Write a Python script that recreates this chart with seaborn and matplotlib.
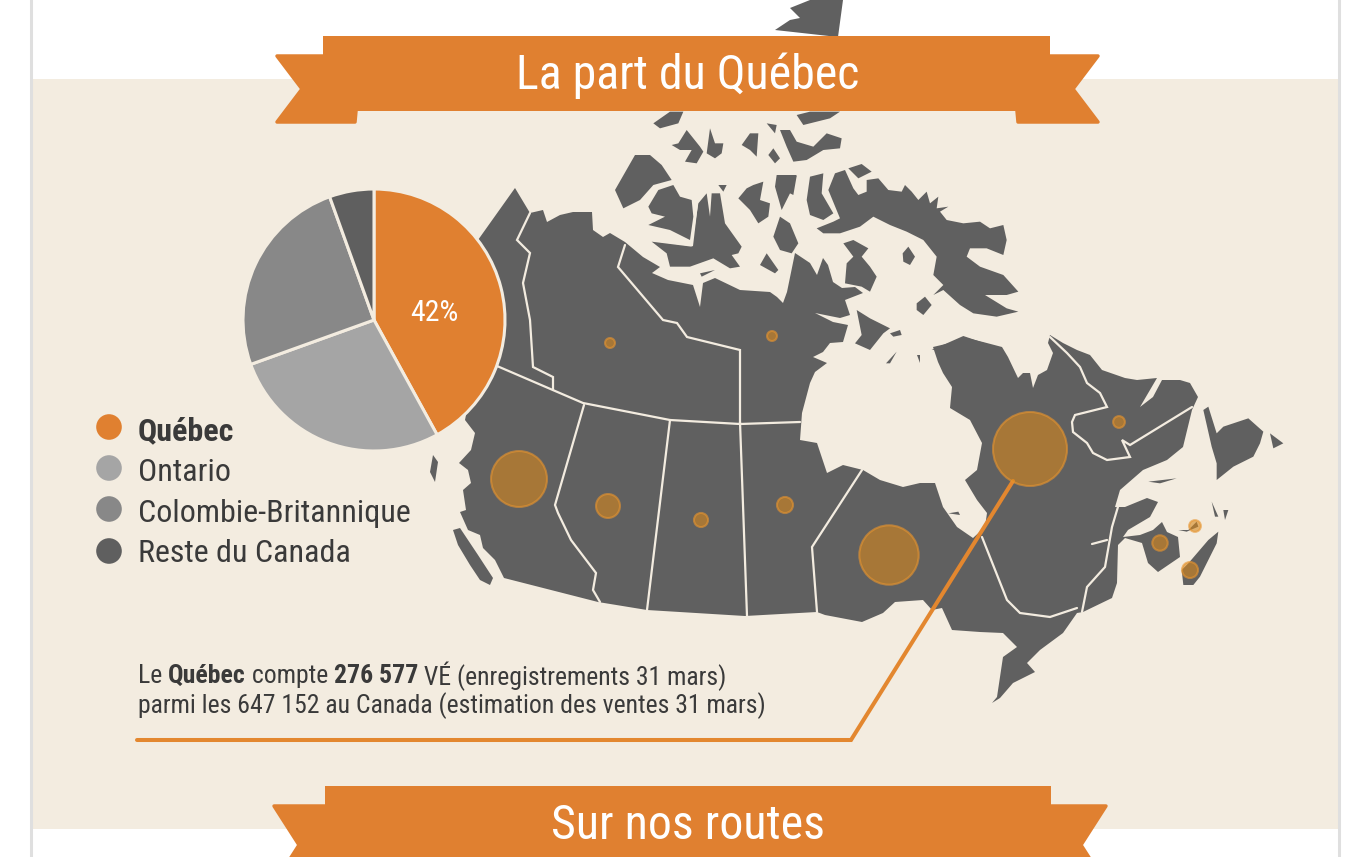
"""
La part du Québec : infographie, camembert et carte du Canada à bulles.
"""
import matplotlib
matplotlib.use("Agg")
import matplotlib.pyplot as plt
import pandas as pd
import seaborn as sns

# parts du camembert (%)
parts_labels = ["Québec", "Ontario", "Colombie-Britannique", "Reste du Canada"]
parts_valeurs = [42, 27.5, 25, 5.5]
parts_couleurs = ["#E08030", "#A5A5A5", "#888888", "#5F5F5F"]

# véhicules estimés par province, d'après l'aire des bulles
provinces = ["QC", "ON", "BC", "AB", "SK", "MB", "NT", "NU", "NL", "NB", "PE", "NS"]
vehicules = [276577, 178000, 158000, 29000, 10000, 13000, 5000, 5000, 7000, 12000, 7000, 13000]
bulle_x = [1030, 889, 519, 608, 701, 785, 610, 772, 1119, 1160, 1195, 1190]
bulle_y = [449, 555, 479, 506, 520, 505, 343, 336, 422, 543, 526, 570]

# contours de la carte, en pixels de l'image
continent = [(515,188),(530,213),(543,210),(547,222),(560,215),(573,212),(592,212),(593,230),(603,237),(610,233),(625,242),
    (643,257),(660,267),(652,273),(668,280),(693,285),(700,307),(703,283),(715,278),(740,290),(770,292),(777,297),(783,303),
    (787,292),(795,253),(810,263),(817,275),(823,258),(828,265),(833,282),(842,288),(855,287),(863,293),(845,300),(850,315),
    (840,318),(815,313),(833,322),(848,325),(843,342),(830,343),(823,352),(813,357),(827,363),(815,372),(810,383),(806,398),
    (802,413),(800,440),(817,443),(827,473),(843,465),(863,470),(880,480),(903,487),(920,483),(935,483),(943,507),(957,527),
    (973,538),(985,527),(987,513),(977,500),(965,480),(977,470),(982,443),(970,420),(950,408),(952,387),(943,373),(938,362),
    (933,347),(950,343),(963,337),(983,342),(1002,347),(1008,357),(1018,378),(1023,373),(1030,373),(1033,388),(1038,375),
    (1047,370),(1053,353),(1048,343),(1050,335),(1063,343),(1077,350),(1090,355),(1102,370),(1125,378),(1137,380),
    (1157,378),(1140,407),(1153,397),(1162,380),(1180,380),(1190,383),(1198,397),(1192,410),(1183,447),(1167,460),
    (1143,470),(1120,490),(1115,507),(1125,507),(1147,498),(1158,502),(1150,517),(1128,530),(1123,537),(1140,535),
    (1153,530),(1162,522),(1167,532),(1178,537),(1180,557),(1158,572),(1148,563),(1142,543),(1125,538),(1118,545),
    (1117,583),(1112,598),(1083,612),(1077,613),(1063,633),(1040,650),(1027,663),(1035,672),(1013,683),(1000,698),
    (992,703),(997,697),(1000,677),(1003,657),(1017,647),(1003,633),(980,632),(952,630),(942,608),(932,610),(923,600),
    (895,602),(883,613),(862,622),(825,615),(817,612),(745,616),(647,610),(598,602),(504,578),(495,560),(483,548),(480,535),
    (468,530),(460,512),(466,510),(463,490),(471,483),(468,470),(459,463),(471,450),(475,433),(465,420),(470,395),(480,330),(478,240)]
cotes_pixels = [
    [(775,30),(790,20),(800,18),(790,8),(810,0),(843,0),(838,37)],
    [(453,530),(460,528),(478,555),(493,578),(490,585),(480,580),(470,565),(458,545)],
    [(433,455),(438,462),(435,482),(430,472)],
]
iles_baffin = [
    [(80,235),(130,215),(150,205),(115,120),(135,70),(165,60),(190,115),(205,135),(230,125),(230,90),(265,85),(295,120),
     (335,125),(345,105),(365,125),(385,150),(410,125),(420,160),(445,140),(440,175),(475,170),(450,185),(470,210),(520,220),
     (570,215),(600,235),(640,225),(650,270),(640,315),(590,295),(540,295),(530,320),(570,350),(640,375),(685,425),(650,435),
     (585,435),(650,475),(685,485),(620,500),(550,490),(510,465),(460,420),(430,435),(460,405),(430,375),(440,320),(400,270),
     (350,245),(300,225),(250,200),(210,230),(150,250),(100,250)],
    [(175,55),(215,42),(245,65),(205,85)],
    [(60,80),(100,70),(95,130),(130,190),(100,210),(60,195),(50,150)],
    [(338,310),(355,290),(375,320),(360,345),(340,335)],
    [(380,460),(405,440),(425,465),(400,495),(380,480)],
    [(160,280),(190,270),(235,295),(215,320),(240,350),(260,380),(240,425),(215,410),(165,400),(170,340),(190,320)],
    [(200,480),(240,505),(300,535),(280,550),(240,600),(195,580),(215,555)],
    [(300,550),(330,540),(335,555),(310,560)],
    [(425,600),(520,558),(600,585),(640,600)],
    [(0,80),(20,78),(10,135),(0,130)],
]
iles_arctique = [
    [(130,40),(180,5),(220,5),(205,40),(150,55)],
    [(185,105),(205,100),(230,60),(270,110),(280,125),(260,160),(225,155),(245,120),(210,120)],
    [(290,130),(300,55),(315,100),(340,100),(335,130),(315,145)],
    [(395,105),(420,70),(445,70),(440,140),(420,120)],
    [(470,40),(500,45),(495,70)],
    [(510,60),(540,60),(560,95),(610,110),(650,70),(695,85),(690,115),(640,120),(590,150),(550,155),(530,110)],
    [(475,135),(490,115),(510,145),(495,160)],
    [(560,15),(600,5),(690,5),(660,25),(580,45)],
    [(15,240),(75,135),(120,135),(155,165),(185,210),(130,225),(90,270),(40,295)],
    [(115,290),(145,240),(190,225),(210,260),(245,270),(250,320),(240,390),(180,360),(115,345),(165,320),(125,310)],
    [(265,280),(290,250),(300,320),(305,250),(330,250),(345,340),(395,410),(385,430),(365,435),(390,470),(360,475),(310,445),
     (240,470),(180,470),(170,430),(125,395),(245,410)],
    [(325,225),(350,225),(340,245)],
    [(450,465),(470,430),(505,480),(495,490)],
    [(385,265),(410,235),(430,225),(460,215),(450,270),(480,280),(475,320),(445,340),(420,300)],
    [(270,490),(315,480),(275,500)],
    [(500,195),(560,195),(545,240),(515,300),(495,230)],
    [(510,320),(540,340),(565,400),(545,430),(510,420),(490,380)],
]
iles_est = [
    [(258,190),(290,155),(270,190)],
    [(350,165),(360,165),(360,190)],
    [(1210,330),(1225,320),(1250,400),(1270,380),(1345,355),(1390,395),(1380,430),(1360,470),(1300,500),(1250,540),(1250,490),(1235,440)],
    [(1410,400),(1450,430),(1420,445)],
    [(1165,790),(1225,720),(1255,695),(1250,730),(1200,830),(1180,855),(1150,855),(1145,810)],
    [(1135,690),(1165,690),(1190,665),(1195,680),(1160,695)],
    [(1235,605),(1255,650),(1245,650)],
    [(1270,630),(1285,630),(1275,660)],
    [(1045,545),(1130,535),(1080,550)],
    [(445,640),(475,635),(480,645)],
]
# frontières provinciales
frontieres = [
    [(497,366),(583,403),(670,420),(740,424),(800,422)],
    [(530,213),(517,240),(530,253),(523,283),(530,320),(533,367),(553,377),(553,390)],
    [(625,245),(618,267),(663,320),(677,323),(687,337),(740,350),(740,424)],
    [(584,405),(555,505),(558,513),(571,540),(596,573),(593,590),(600,602)],
    [(670,420),(647,610)],
    [(740,422),(747,616)],
    [(862,470),(812,547),(817,612)],
    [(982,537),(1007,600),(1020,613),(1050,617),(1077,608)],
    [(1192,407),(1130,445),(1122,440),(1130,457),(1107,460),(1093,453),(1087,443),(1073,432),(1072,422),(1075,415),(1107,407),(1100,393),(1087,383),(1080,367),(1067,353),(1050,337)],
    [(1082,612),(1087,587),(1105,567),(1112,527),(1120,500)],
    [(1092,544),(1107,540)],
    [(697,203),(692,245),(653,240)],
]

ORANGE = "#E08030"
GRIS = "#606060"
CREME = "#F3ECE0"
TEXTE = "#3A3A3A"

sns.set_theme(style="white")
plt.rcParams["font.family"] = ["Roboto Condensed", "DejaVu Sans"]

fig = plt.figure(figsize=(13.72, 8.57), dpi=100, facecolor="white")
ax = fig.add_axes([0, 0, 1, 1])

# fond de page
ax.fill_between([32, 1338], 79, 829, color=CREME, lw=0, zorder=0)
ax.plot([31, 31], [0, 857], color="#DFDFDF", lw=2.2, zorder=0)
ax.plot([1339, 1339], [0, 857], color="#DFDFDF", lw=2.2, zorder=0)

# carte
for contour in [continent] + cotes_pixels:
    ax.fill(*zip(*contour), color=GRIS, lw=0, zorder=1)
for iles, x0, y0 in [(iles_baffin, 790, 150), (iles_arctique, 610, 110), (iles_est, 800, 300)]:
    for ile in iles:
        ax.fill([x0 + x / 3 for x, y in ile], [y0 + y / 3 for x, y in ile], color=GRIS, lw=0, zorder=1)
for trace in frontieres:
    ax.plot(*zip(*trace), color=CREME, lw=1.6, zorder=2, solid_joinstyle="miter")

# trait de rappel
ax.plot([1013, 851, 137], [481, 740, 740], color="#E3872F", lw=2.9, zorder=3, solid_joinstyle="miter")

# bulles : aire proportionnelle au nombre de véhicules
df = pd.DataFrame({"province": provinces, "vehicules": vehicules, "x": bulle_x, "y": bulle_y})
echelle = 0.01026
sns.scatterplot(data=df, x="x", y="y", size="vehicules", ax=ax, legend=False,
                sizes=(echelle * min(vehicules), echelle * max(vehicules)),
                color="#D8881D", edgecolor="#E8952F", linewidth=1.5, alpha=0.6, zorder=4)

# légende du camembert
df_leg = pd.DataFrame({"label": parts_labels, "x": [109] * 4, "y": [427, 468, 509, 551]})
sns.scatterplot(data=df_leg, x="x", y="y", hue="label", palette=parts_couleurs, s=340,
                linewidth=0, ax=ax, legend=False, zorder=4)
for nom, y_txt in zip(parts_labels, [431, 472, 513, 553]):
    ax.text(138, y_txt, nom, fontsize=23, color=TEXTE, va="center", ha="left",
            fontweight="bold" if nom == "Québec" else "normal")

# bandeaux
def bandeau(x0, x1, y0, y1, cote_g, cote_d, creux, bas, titre, y_titre):
    haut = y0 + 20
    for bout, rabat, signe in [(cote_g + 2, x0, 1), (cote_d - 2, x1, -1)]:
        ax.fill([bout, rabat, rabat, rabat + signe * 33, rabat + signe * 32, bout, bout + signe * creux],
                [haut, haut, y1, y1, bas, bas, (haut + bas) / 2],
                facecolor=ORANGE, edgecolor=ORANGE, lw=2.5, joinstyle="round", zorder=5)
    ax.fill([x0, x1, x1, x0], [y0, y0, y1, y1], color=ORANGE, lw=0, zorder=6)
    ax.text(688, y_titre, titre, color="white", fontsize=34.5, ha="center", va="center", zorder=7)

bandeau(323, 1050, 36, 111, 275, 1100, 25, 122, "La part du Québec", 76)
bandeau(325, 1051, 786, 880, 272, 1108, 25, 884, "Sur nos routes", 826)

# note à deux graisses
def texte_mixte(x, y, morceaux):
    rendu = fig.canvas.get_renderer()
    for contenu, graisse in morceaux:
        t = ax.text(x, y, contenu, fontsize=18.5, color=TEXTE, fontweight=graisse, va="center", ha="left")
        x = ax.transData.inverted().transform(t.get_window_extent(rendu).p1)[0]

ax.set_xlim(0, 1372)
ax.set_ylim(857, 0)
ax.axis("off")

note_1 = [("Le ", "normal"), ("Québec", "bold"), (" compte ", "normal"), ("276 577", "bold"),
          (" VÉ (enregistrements 31 mars)", "normal")]
texte_mixte(138, 676, note_1)
ax.text(138, 706, "parmi les 647 152 au Canada (estimation des ventes 31 mars)", fontsize=18.5,
        color=TEXTE, va="center", ha="left")

# camembert
ax_pie = fig.add_axes([243 / 1372, (857 - 451) / 857, 262 / 1372, 262 / 857])
ax_pie.pie(parts_valeurs, colors=parts_couleurs, startangle=90, counterclock=False, radius=1,
           wedgeprops={"edgecolor": CREME, "linewidth": 2.2, "clip_on": False})
ax_pie.set_xlim(-1, 1)
ax_pie.set_ylim(-1, 1)
ax_pie.text(0.46, 0.05, f"{parts_valeurs[0]}%", color="white", fontsize=21.5, ha="center", va="center")

fig.savefig("out.png", dpi=100, facecolor="white")
